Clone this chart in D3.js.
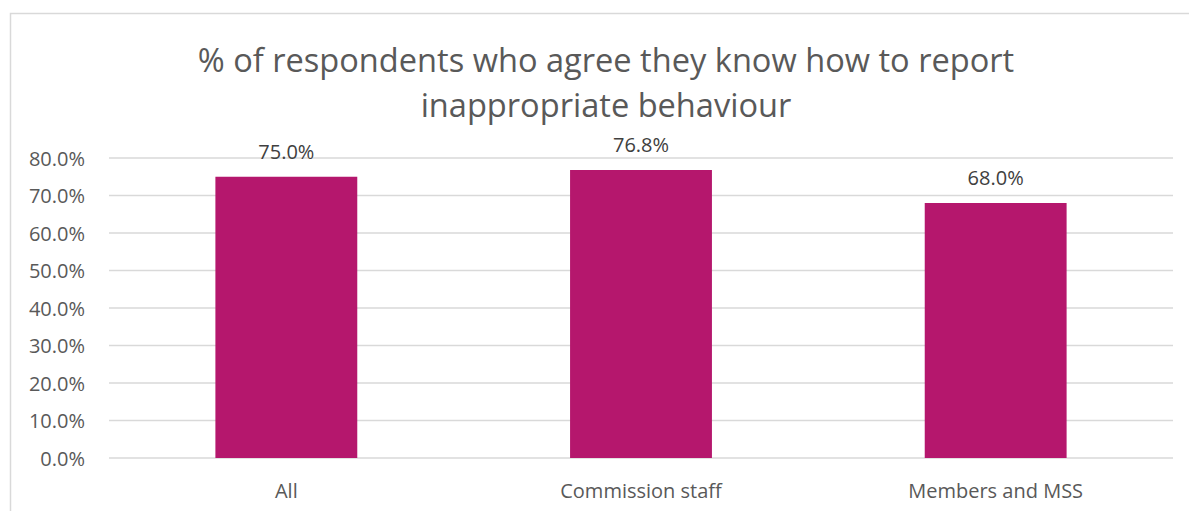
<!DOCTYPE html>
<html>
<head>
<meta charset="utf-8">
<script src="https://cdn.jsdelivr.net/npm/d3@7"></script>
<style>
  html, body { margin: 0; padding: 0; background: #fff; }
  svg { display: block; font-family: "Open Sans", "Noto Sans", sans-serif; }
</style>
</head>
<body>
<svg id="chart" width="1189" height="511"></svg>
<script>
// Survey results: share of respondents who know how to report inappropriate behaviour
const categories = ["All", "Commission staff", "Members and MSS"];
const values = [75.0, 76.8, 68.0];
const yTicks = [0, 10, 20, 30, 40, 50, 60, 70, 80];
const titleLines = ["% of respondents who agree they know how to report", "inappropriate behaviour"];

const svg = d3.select("#chart");
const W = 1189, H = 511;
const plot = { left: 109, right: 1173, top: 158, bottom: 458 };
const textColor = "#595959";
const gridColor = "#d9d9d9";
const barColor = "#b5176d";

// Chart frame
svg.append("rect")
  .attr("x", 10.5).attr("y", 13.5)
  .attr("width", W + 20).attr("height", H + 20)
  .attr("fill", "none").attr("stroke", gridColor).attr("stroke-width", 1.5);

const x = d3.scaleBand().domain(categories).range([plot.left, plot.right]).padding(0);
const y = d3.scaleLinear().domain([0, 80]).range([plot.bottom, plot.top]);
const barW = x.bandwidth() * 0.4;

// Horizontal gridlines
svg.append("g").selectAll("line").data(yTicks).join("line")
  .attr("x1", plot.left).attr("x2", plot.right)
  .attr("y1", d => y(d)).attr("y2", d => y(d))
  .attr("stroke", gridColor).attr("stroke-width", 1.5);

// Y-axis labels
const yAxis = d3.axisLeft(y).tickValues(yTicks).tickSize(0).tickPadding(0)
  .tickFormat(d => d3.format(".1f")(d) + "%");
svg.append("g").attr("transform", `translate(${plot.left - 24},0)`).call(yAxis)
  .call(g => g.select(".domain").remove())
  .call(g => g.selectAll("text").attr("fill", textColor).attr("font-size", 20)
    .attr("font-family", "Open Sans").attr("dy", "0.35em"));

// Bars
svg.append("g").selectAll("rect").data(values).join("rect")
  .attr("x", (d, i) => x(categories[i]) + (x.bandwidth() - barW) / 2)
  .attr("y", d => y(d))
  .attr("width", barW)
  .attr("height", d => y(0) - y(d))
  .attr("fill", barColor);

// Value labels
svg.append("g").selectAll("text").data(values).join("text")
  .attr("x", (d, i) => x(categories[i]) + x.bandwidth() / 2)
  .attr("y", d => y(d) - 18)
  .attr("text-anchor", "middle")
  .attr("font-size", 20).attr("fill", "#404040")
  .text(d => d3.format(".1f")(d) + "%");

// Category labels
const xAxis = d3.axisBottom(x).tickSize(0).tickPadding(0);
svg.append("g").attr("transform", `translate(0,${plot.bottom})`).call(xAxis)
  .call(g => g.select(".domain").remove())
  .call(g => g.selectAll("text").attr("fill", textColor).attr("font-size", 20)
    .attr("font-family", "Open Sans").attr("dy", null).attr("y", 40));

// Title
svg.append("g").selectAll("text").data(titleLines).join("text")
  .attr("x", 606)
  .attr("y", (d, i) => 72 + i * 45)
  .attr("text-anchor", "middle")
  .attr("font-size", 32.6).attr("fill", textColor)
  .text(d => d);
</script>
</body>
</html>
